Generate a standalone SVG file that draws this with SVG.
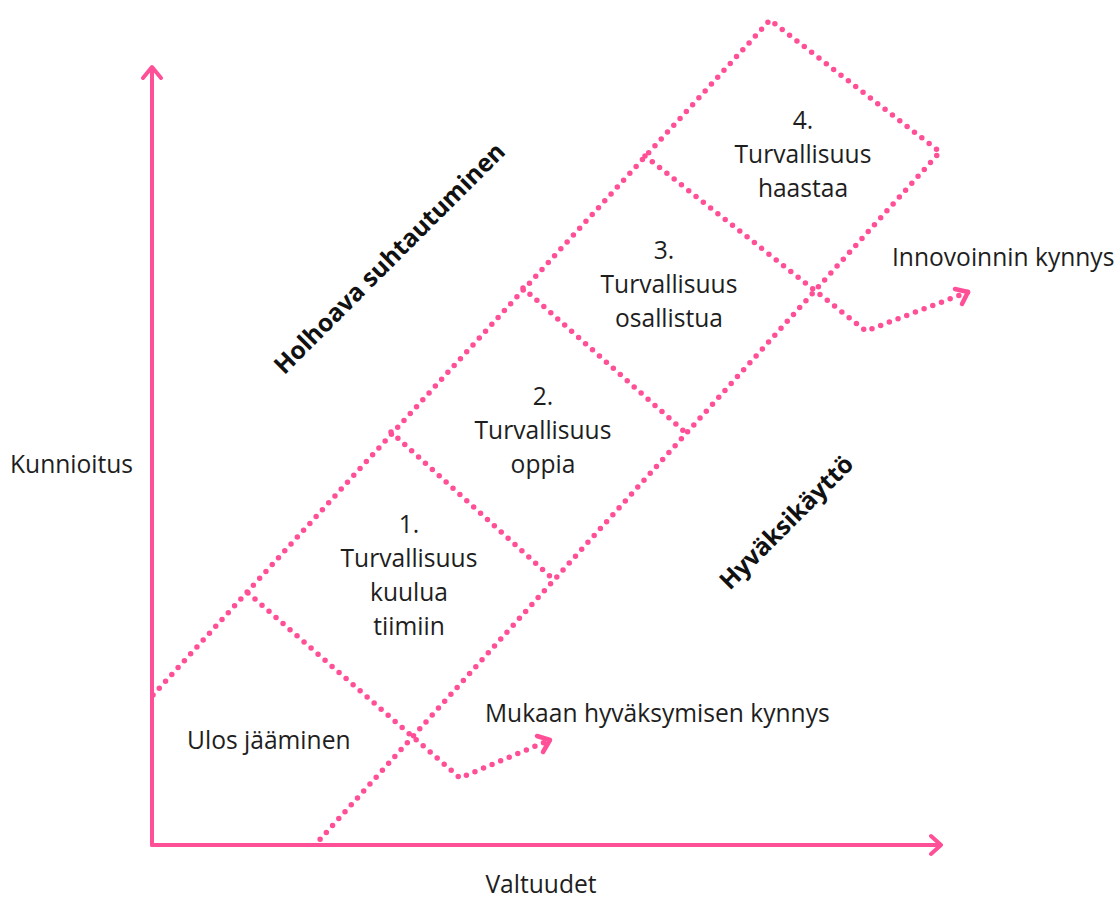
<svg xmlns="http://www.w3.org/2000/svg" width="1117" height="898" viewBox="0 0 1117 898">
<style>
.axis{stroke:#FF4F97;stroke-width:4;fill:none;stroke-linecap:round;stroke-linejoin:round}
.dot{stroke:#FF4F97;stroke-width:5.5;fill:none;stroke-linecap:round;stroke-dasharray:0 9.3}
.head{stroke:#FF4F97;stroke-width:4.5;fill:none;stroke-linecap:round;stroke-linejoin:round}
text{font-family:"Open Sans","Liberation Sans",sans-serif;font-size:24.6px;fill:#1e1e1e}
.c{text-anchor:middle}
.b{font-weight:bold;font-size:24.6px;fill:#111}
</style>
<rect width="1117" height="898" fill="#fff"/>
<g id="axes">
<path class="axis" d="M152 845 V68 M143 78 L152 67 L161 78"/>
<path class="axis" d="M152 845 H940 M931 836 L941 845 L931 854"/>
</g>
<g id="connectors">
<path class="dot" d="M153 695 L770 20 L940 152 L315 845"/>
<path class="dot" d="M248 593 L460 778 L550 740"/>
<path class="head" d="M537 736 L550 740 L543 752"/>
<path class="dot" d="M391 432 L552 578"/>
<path class="dot" d="M523 288 L686 433"/>
<path class="dot" d="M645 156 L866 331 L968 292"/>
<path class="head" d="M955 289 L968 292 L962 304"/>
</g>
<g id="axis-y-label"><text x="10" y="473">Kunnioitus</text></g>
<g id="axis-x-label"><text class="c" x="541" y="893">Valtuudet</text></g>
<g id="zone-out"><text x="187" y="749">Ulos jääminen</text></g>
<g id="threshold-1"><text x="485" y="722">Mukaan hyväksymisen kynnys</text></g>
<g id="threshold-2"><text x="892" y="266">Innovoinnin kynnys</text></g>
<g id="stage-1"><text class="c" x="409" y="533">1.</text><text class="c" x="409" y="567">Turvallisuus</text><text class="c" x="409" y="601">kuulua</text><text class="c" x="409" y="635">tiimiin</text></g>
<g id="stage-2"><text class="c" x="543" y="405">2.</text><text class="c" x="543" y="439">Turvallisuus</text><text class="c" x="543" y="473">oppia</text></g>
<g id="stage-3"><text class="c" x="664" y="259">3.</text><text class="c" x="669" y="293">Turvallisuus</text><text class="c" x="669" y="327">osallistua</text></g>
<g id="stage-4"><text class="c" x="803" y="129">4.</text><text class="c" x="803" y="163">Turvallisuus</text><text class="c" x="803" y="197">haastaa</text></g>
<g id="label-holhoava"><text class="c b" transform="translate(389 258) rotate(-45)" y="9">Holhoava suhtautuminen</text></g>
<g id="label-hyvaksikaytto"><text class="c b" transform="translate(786 522) rotate(-45)" y="9">Hyväksikäyttö</text></g>
</svg>
